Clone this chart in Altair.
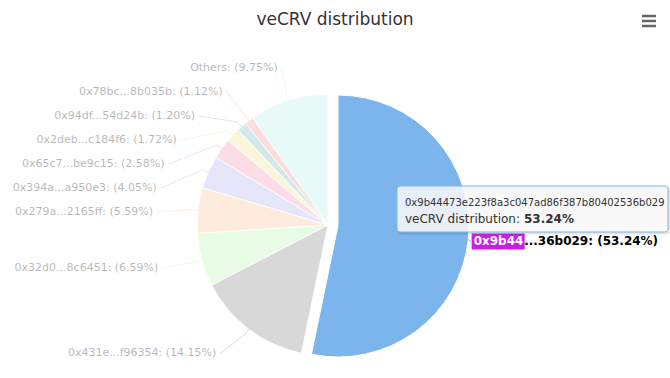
import math
import altair as alt
import pandas as pd

# ---- data ----
labels = ["0x9b44...36b029", "0x431e...f96354", "0x32d0...8c6451", "0x279a...2165ff",
          "0x394a...a950e3", "0x65c7...be9c15", "0x2deb...c184f6", "0x94df...54d24b",
          "0x78bc...8b035b", "Others"]
shares = [53.24, 14.15, 6.59, 5.59, 4.05, 2.58, 1.72, 1.20, 1.12, 9.75]
colors = ["#7cb5ec", "#434348", "#90ed7d", "#f7a35c", "#8085e9",
          "#f15c80", "#e4d354", "#2b908f", "#f45b5b", "#91e8e1"]
hovered_address = "0x9b44473e223f8a3c047ad86f387b80402536b029"
series_name = "veCRV distribution"
chart_title = "veCRV distribution"

TOTAL = sum(shares)
W, H = 670, 378
CX, CY, R = 328, 225, 131      # pie centre and radius (px)
RL = 161                       # label circle radius
SLICE = 10                     # sliced-out offset
TOP, STEP = 68, 24             # label stacking limits
PAD = 14.5
FONT = "DejaVu Sans"

df = pd.DataFrame({"name": labels, "share": shares, "i": list(range(len(labels)))})

PI = math.pi


def base():
    return (
        alt.Chart(df)
        .transform_window(cum="sum(share)", sort=[alt.SortField("i")], frame=[None, 0])
        .transform_calculate(
            c0="datum.cum - datum.share",
            mid=f"(datum.cum - datum.share/2) / {TOTAL} * 2 * PI",
        )
        .transform_calculate(
            left="datum.mid > PI",
            sx=f"datum.i == 0 ? {SLICE}*sin(datum.mid) : 0",
            sy=f"datum.i == 0 ? -{SLICE}*cos(datum.mid) : 0",
            ny=f"{CY} - {RL}*cos(datum.mid)",
            label="datum.name + ': (' + format(datum.share, '.2f') + '%)'",
        )
        .transform_window(rn="row_number()", groupby=["left"], sort=[alt.SortField("ny")])
        .transform_calculate(slot=f"{TOP} + {STEP}*(datum.rn - 1)")
        .transform_calculate(ly=f"datum.slot >= datum.ny - {STEP / 2} ? datum.slot : datum.ny")
        .transform_calculate(dxl=f"sqrt(max({RL}*{RL} - pow(datum.ly - {CY}, 2), 0))")
        .transform_calculate(
            lx=f"{CX} + (datum.left ? -datum.dxl : datum.dxl) - {PAD}",
            ax=f"{CX} + datum.sx",
            ay=f"{CY} + datum.sy",
        )
        .transform_calculate(
            ancx="datum.lx + (datum.left ? 4 : -3)",
            tx=f"datum.ax + {R}*sin(datum.mid)",
            ty=f"datum.ay - {R}*cos(datum.mid)",
            bx=f"datum.ax + (datum.left ? {R + 6} : {R})*sin(datum.mid)",
            by=f"datum.ay - (datum.left ? {R + 6} : {R})*cos(datum.mid)",
            pre="substring(datum.label, 0, 6)",
            rest="substring(datum.label, 6)",
            hx0="datum.lx - 2",
            hx1="datum.lx + 51",
            hy0="datum.ly - 8",
            hy1="datum.ly + 8",
            restx="datum.lx + 50.5",
            val="format(datum.share, '.2f') + '%'",
        )
    )


def px(f):
    return alt.X(f"{f}:Q", scale=None, axis=None)


def py(f):
    return alt.Y(f"{f}:Q", scale=None, axis=None)


color_scale = alt.Scale(domain=labels, range=colors)
fade = alt.condition("datum.i == 0", alt.value(1), alt.value(0.2))

arcs = base().mark_arc(outerRadius=R, stroke="#ffffff", strokeWidth=1).encode(
    x=px("ax"), y=py("ay"),
    theta=alt.Theta("c0:Q", scale=alt.Scale(domain=[0, TOTAL], range=[0, 2 * PI])),
    theta2="cum:Q",
    fill=alt.Fill("name:N", scale=color_scale, legend=None),
    opacity=fade,
)

conn1 = base().mark_rule(strokeWidth=1).encode(
    x=px("ancx"), y=py("ly"), x2="bx:Q", y2="by:Q",
    stroke=alt.Stroke("name:N", scale=color_scale, legend=None),
    opacity=fade,
)
conn2 = base().mark_rule(strokeWidth=1).encode(
    x=px("bx"), y=py("by"), x2="tx:Q", y2="ty:Q",
    stroke=alt.Stroke("name:N", scale=color_scale, legend=None),
    opacity=fade,
)

left_labels = base().transform_filter("datum.left").mark_text(
    align="right", baseline="middle", font=FONT, fontSize=11, color="#000000", opacity=0.28
).encode(x=px("lx"), y=py("ly"), text="label:N")

hl_rect = base().transform_filter("datum.i == 0").mark_rect(color="#c81ee6").encode(
    x=px("hx0"), x2="hx1:Q", y=py("hy0"), y2="hy1:Q"
)
hl_pre = base().transform_filter("datum.i == 0").mark_text(
    align="left", baseline="middle", font=FONT, fontSize=12, fontWeight="bold", color="#ffffff"
).encode(x=px("lx"), y=py("ly"), text="pre:N")
hl_rest = base().transform_filter("datum.i == 0").mark_text(
    align="left", baseline="middle", font=FONT, fontSize=12, fontWeight="bold", color="#000000"
).encode(x=px("restx"), y=py("ly"), text="rest:N")

tip = base().transform_filter("datum.i == 0")
tip_shadow = tip.mark_rect(fill=None, stroke="#000000", strokeOpacity=0.1, strokeWidth=3,
                           cornerRadius=3).encode(
    x=alt.value(399), x2=alt.value(669), y=alt.value(188), y2=alt.value(233))
tip_box = tip.mark_rect(fill="#f7f7f7", fillOpacity=0.88, stroke="#7cb5ec", strokeWidth=1,
                        cornerRadius=3).encode(
    x=alt.value(397), x2=alt.value(668), y=alt.value(186), y2=alt.value(232))
tip_l1 = tip.mark_text(align="left", baseline="middle", font=FONT, fontSize=10,
                       color="#333333").encode(
    x=alt.value(405), y=alt.value(203), text=alt.value(hovered_address))
tip_l2 = tip.mark_text(align="left", baseline="middle", font=FONT, fontSize=12,
                       color="#333333").encode(
    x=alt.value(405), y=alt.value(219), text=alt.value(series_name + ": "))
tip_l3 = tip.mark_text(align="left", baseline="middle", font=FONT, fontSize=12,
                       fontWeight="bold", color="#333333").encode(
    x=alt.value(524), y=alt.value(219), text="val:N")

menu = alt.Chart(pd.DataFrame({"k": [0, 1, 2]})).transform_calculate(
    yk="16 + 5*datum.k").mark_rule(stroke="#666666", strokeWidth=2.5).encode(
    x=alt.value(642), x2=alt.value(656), y=py("yk"))

chart = alt.layer(
    arcs, conn1, conn2, left_labels, hl_rect, hl_pre, hl_rest,
    tip_shadow, tip_box, tip_l1, tip_l2, tip_l3, menu,
).properties(
    width=W, height=H,
    title=alt.TitleParams(chart_title, font=FONT, fontSize=17, fontWeight="normal",
                          color="#333333", anchor="middle", frame="group",
                          baseline="middle", offset=0, dy=37),
    autosize=alt.AutoSizeParams(type="none"),
    padding=0,
    background="#ffffff",
).configure_view(stroke=None)

chart.save("out.html", embed_options={"renderer": "svg", "actions": False})
